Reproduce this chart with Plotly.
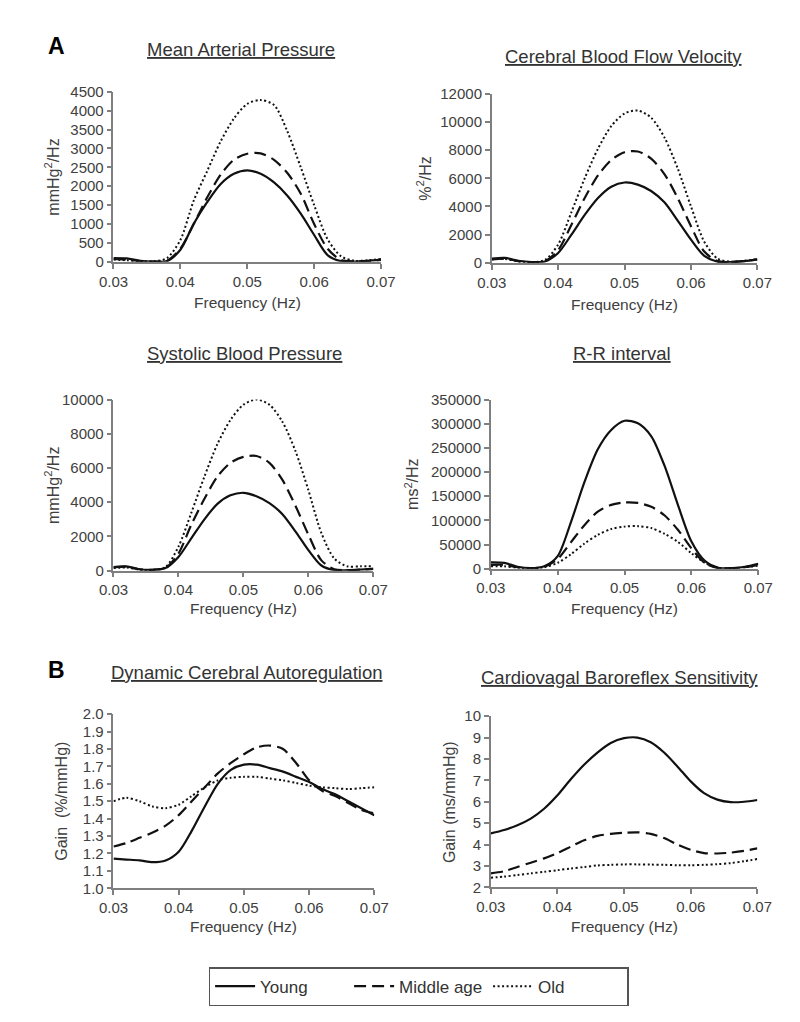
import plotly.graph_objects as go

# ---------------- data ----------------
freq = [0.030, 0.032, 0.034, 0.036, 0.038, 0.040, 0.042, 0.044, 0.046, 0.048, 0.050,
        0.052, 0.054, 0.056, 0.058, 0.060, 0.062, 0.064, 0.066, 0.068, 0.070]

map_young = [100, 90, 30, 10, 20, 320, 1010, 1580, 2055, 2330, 2420, 2330, 2100, 1750, 1275, 710, 180, 20, 10, 30, 60]
map_middle = [80, 60, 20, 10, 30, 350, 1000, 1700, 2300, 2700, 2860, 2870, 2700, 2350, 1800, 1000, 350, 50, 10, 20, 50]
map_old = [60, 40, 15, 10, 100, 580, 1620, 2400, 3180, 3790, 4180, 4280, 4150, 3450, 2500, 1500, 600, 150, 30, 40, 80]

cbfv_young = [300, 350, 150, 60, 100, 700, 2000, 3400, 4600, 5400, 5700, 5550, 5100, 4300, 3000, 1650, 500, 80, 60, 120, 250]
cbfv_middle = [250, 300, 120, 50, 120, 900, 2700, 4600, 6200, 7300, 7850, 7900, 7400, 6300, 4600, 2600, 800, 120, 60, 120, 250]
cbfv_old = [250, 280, 100, 50, 200, 1300, 3600, 6000, 8100, 9700, 10600, 10800, 10300, 8900, 6700, 4000, 1500, 300, 80, 150, 250]

sbp_young = [200, 250, 80, 50, 150, 800, 1900, 3000, 3900, 4400, 4550, 4350, 3950, 3300, 2300, 1200, 300, 30, 30, 60, 100]
sbp_middle = [200, 230, 80, 50, 150, 1000, 2700, 4200, 5500, 6300, 6650, 6700, 6300, 5300, 3800, 2100, 600, 80, 30, 60, 100]
sbp_old = [150, 180, 60, 40, 200, 1400, 3400, 5500, 7400, 8800, 9700, 10000, 9700, 8700, 7000, 4700, 2200, 700, 250, 250, 250]

rr_young = [13000, 12000, 4000, 1000, 5000, 26000, 97000, 179000, 247000, 287000, 306000, 301000, 274000, 212000, 131000, 56000, 16000, 2000, 1000, 4000, 10000]
rr_middle = [8000, 8000, 3000, 1000, 4000, 20000, 55000, 90000, 118000, 132000, 137000, 136000, 128000, 110000, 80000, 42000, 12000, 1000, 1000, 3000, 8000]
rr_old = [5000, 5000, 2000, 1000, 3000, 12000, 30000, 52000, 70000, 82000, 87000, 88000, 84000, 72000, 55000, 32000, 12000, 2000, 1000, 3000, 6000]

dca_young = [1.17, 1.165, 1.16, 1.15, 1.16, 1.21, 1.33, 1.47, 1.60, 1.68, 1.71, 1.71, 1.69, 1.67, 1.64, 1.61, 1.57, 1.54, 1.50, 1.46, 1.42]
dca_middle = [1.24, 1.26, 1.29, 1.32, 1.36, 1.42, 1.50, 1.58, 1.66, 1.72, 1.77, 1.81, 1.82, 1.80, 1.72, 1.62, 1.56, 1.53, 1.49, 1.45, 1.43]
dca_old = [1.50, 1.52, 1.50, 1.47, 1.46, 1.48, 1.53, 1.58, 1.62, 1.635, 1.64, 1.64, 1.63, 1.62, 1.605, 1.59, 1.58, 1.575, 1.57, 1.575, 1.58]

brs_young = [4.52, 4.68, 4.9, 5.21, 5.67, 6.3, 7.05, 7.73, 8.3, 8.75, 8.97, 9.0, 8.78, 8.3, 7.65, 6.95, 6.4, 6.1, 5.98, 6.0, 6.08]
brs_middle = [2.65, 2.75, 2.95, 3.15, 3.35, 3.6, 3.9, 4.2, 4.4, 4.5, 4.55, 4.57, 4.5, 4.3, 4.0, 3.75, 3.6, 3.58, 3.62, 3.7, 3.82]
brs_old = [2.45, 2.5, 2.57, 2.65, 2.72, 2.8, 2.88, 2.95, 3.02, 3.05, 3.07, 3.07, 3.06, 3.05, 3.03, 3.03, 3.05, 3.08, 3.13, 3.22, 3.32]

groups = ["Young", "Middle age", "Old"]

panels = [
    dict(title="Mean Arterial Pressure", ytitle="mmHg<sup>2</sup>/Hz", series=[map_young, map_middle, map_old],
         yrange=[0, 4500], dtick=500, fmt="d", box=(94, 372, 76, 249), ytx=30, xtitle_y=290),
    dict(title="Cerebral Blood Flow Velocity", ytitle="%<sup>2</sup>/Hz", series=[cbfv_young, cbfv_middle, cbfv_old],
         yrange=[0, 12000], dtick=2000, fmt="d", box=(487, 763, 78, 250), ytx=417, xtitle_y=292),
    dict(title="Systolic Blood Pressure", ytitle="mmHg<sup>2</sup>/Hz", series=[sbp_young, sbp_middle, sbp_old],
         yrange=[0, 10000], dtick=2000, fmt="d", box=(94, 364, 389, 563), ytx=30, xtitle_y=601),
    dict(title="R-R interval", ytitle="ms<sup>2</sup>/Hz", series=[rr_young, rr_middle, rr_old],
         yrange=[0, 350000], dtick=50000, fmt="d", box=(486, 764, 389, 561), ytx=404, xtitle_y=601),
    dict(title="Dynamic Cerebral Autoregulation", ytitle="Gain  (%/mmHg)", series=[dca_young, dca_middle, dca_old],
         yrange=[1.0, 2.0], dtick=0.1, fmt=".1f", box=(94, 365, 709, 886), ytx=40, xtitle_y=925),
    dict(title="Cardiovagal Baroreflex Sensitivity", ytitle="Gain (ms/mmHg)", series=[brs_young, brs_middle, brs_old],
         yrange=[2, 10], dtick=1, fmt="d", box=(486, 763, 711, 885), ytx=443, xtitle_y=925),
]

title_pos = [(227, 33), (624, 40), (230, 342), (622, 342), (232, 667), (620, 672)]

W, H = 800, 1022
dashes = ["solid", "12px,6px", "2px,2.5px"]
widths = [2.2, 2.2, 2.0]
AXC = "#7f7f7f"
TXC = "#404040"
FONT = "Liberation Sans, Arial, sans-serif"

fig = go.Figure()
annotations = []

for i, p in enumerate(panels):
    n = "" if i == 0 else str(i + 1)
    x0, x1, y0, y1 = p["box"]
    for g, (vals, name) in enumerate(zip(p["series"], groups)):
        fig.add_trace(go.Scatter(
            x=freq, y=vals, mode="lines", name=name,
            line=dict(color="#111111", width=widths[g], dash=dashes[g], shape="spline", smoothing=0.8),
            xaxis="x" + n, yaxis="y" + n, showlegend=(i == 0), hoverinfo="skip"))
    fig.layout["xaxis" + n] = dict(
        domain=[x0 / W, x1 / W], anchor="y" + n, range=[0.03, 0.07], tickvals=[0.03, 0.04, 0.05, 0.06, 0.07],
        tickformat=".2f", showline=True, linecolor=AXC, linewidth=1.5, ticks="outside", ticklen=5,
        tickcolor=AXC, tickwidth=1.5, showgrid=False, zeroline=False,
        tickfont=dict(family=FONT, size=15, color=TXC))
    fig.layout["yaxis" + n] = dict(
        domain=[1 - y1 / H, 1 - y0 / H], anchor="x" + n, range=p["yrange"], dtick=p["dtick"],
        tick0=p["yrange"][0], tickformat=p["fmt"], showline=True, linecolor=AXC, linewidth=1.5,
        ticks="outside", ticklen=5, tickcolor=AXC, tickwidth=1.5, showgrid=False, zeroline=False,
        tickfont=dict(family=FONT, size=15, color=TXC))
    tx, ty = title_pos[i]
    annotations.append(dict(text="<u>" + p["title"] + "</u>", x=tx / W, y=1 - ty / H, xref="paper", yref="paper",
                            xanchor="center", yanchor="middle", showarrow=False,
                            font=dict(family=FONT, size=18.5, color="#333333")))
    annotations.append(dict(text=p["ytitle"], x=p["ytx"] / W, y=1 - ((y0 + y1) / 2) / H, xref="paper", yref="paper",
                            xanchor="center", yanchor="middle", textangle=-90, showarrow=False,
                            font=dict(family=FONT, size=16, color=TXC)))
    annotations.append(dict(text="Frequency (Hz)", x=((x0 + x1) / 2) / W, y=1 - p["xtitle_y"] / H, xref="paper",
                            yref="paper", xanchor="center", yanchor="middle", showarrow=False,
                            font=dict(family=FONT, size=15.5, color=TXC)))

annotations.append(dict(text="<b>A</b>", x=35 / W, y=1 - 29 / H, xref="paper", yref="paper", xanchor="center",
                        yanchor="middle", showarrow=False, font=dict(family=FONT, size=23, color="#000000")))
annotations.append(dict(text="<b>B</b>", x=35 / W, y=1 - 664 / H, xref="paper", yref="paper", xanchor="center",
                        yanchor="middle", showarrow=False, font=dict(family=FONT, size=23, color="#000000")))

fig.update_layout(
    width=W, height=H, margin=dict(l=0, r=0, t=0, b=0), paper_bgcolor="white", plot_bgcolor="white",
    annotations=annotations,
    legend=dict(orientation="h", x=411 / W, y=1 - 986 / H, xanchor="center", yanchor="middle",
                bordercolor="#555555", borderwidth=1.5, font=dict(family=FONT, size=17, color="#333333"),
                itemwidth=40, entrywidth=84, entrywidthmode="pixels"),
)

fig.write_html("out.html")
